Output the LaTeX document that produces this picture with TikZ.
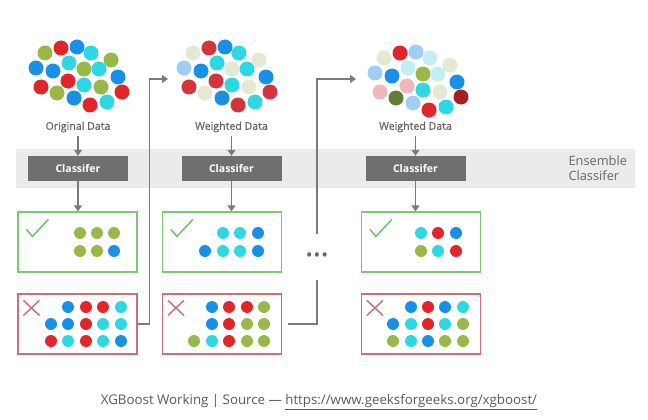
\documentclass[tikz,border=0pt]{standalone}
\usepackage{fontspec}
\setmainfont{Open Sans}
\newfontfamily\labfont[FakeBold=0.8]{Open Sans}
\usetikzlibrary{arrows.meta,positioning}
\definecolor{dred}{HTML}{E1262B}
\definecolor{rtwo}{HTML}{D5343C}
\definecolor{dblue}{HTML}{1A8FE6}
\definecolor{dcyan}{HTML}{2DD8E4}
\definecolor{dgreen}{HTML}{9AB84A}
\definecolor{beige}{HTML}{E3E9D3}
\definecolor{lblue}{HTML}{9ECDF5}
\definecolor{pcyan}{HTML}{C3EEF3}
\definecolor{pink}{HTML}{F1B8BB}
\definecolor{darkred}{HTML}{A51F1F}
\definecolor{dkgreen}{HTML}{5F7D33}
\definecolor{okgreen}{HTML}{7DC877}
\definecolor{badred}{HTML}{C97179}
\definecolor{tickgreen}{HTML}{6DC168}
\definecolor{crossred}{HTML}{C8727A}
\definecolor{clsgray}{HTML}{6F6F6F}
\definecolor{bandgray}{HTML}{EBEBEB}
\definecolor{linegray}{HTML}{7A7A7A}
\definecolor{labgray}{HTML}{666666}
\definecolor{capgray}{HTML}{5A5A5A}

\begin{document}
\begin{tikzpicture}[x=1pt, y=-1pt,
    blob/.style={circle, inner sep=0pt, minimum size=15pt},
    dot/.style={circle, inner sep=0pt, minimum size=12pt},
    cls/.style={fill=clsgray, text=white, minimum width=100pt, minimum height=25pt,
      font=\fontsize{10.5}{12}\selectfont\bfseries},
    lab/.style={text=labgray, font=\labfont\fontsize{10.6}{12}\selectfont},
    okbox/.style={draw=okgreen, line width=1.2pt, minimum width=119pt, minimum height=60pt},
    badbox/.style={draw=badred, line width=1.2pt, minimum width=119pt, minimum height=60pt},
    tick/.style={draw=tickgreen, line width=1.5pt},
    cross/.style={draw=crossred, line width=1.5pt},
    line/.style={draw=linegray, line width=1.2pt},
    arrow/.style={-{Triangle[width=8pt,length=6pt]}, line width=1.2pt, linegray}
  ]
  \useasboundingbox (0,0) rectangle (648,420);

  % ensemble band
  \fill[bandgray] (16,149) rectangle (635,188);

  % original data
  \foreach \x/\y/\c [count=\i] in {45/53/dgreen, 61/48/dred, 77/47/dblue, 91/53/dcyan, 111/60/dgreen,
      36/68/dblue, 53/71/dblue, 69/63/dcyan, 84/69/dgreen, 99/69/dcyan, 118/77/dblue,
      41/87/dred, 68/81/dred, 84/85/dcyan, 101/87/dgreen, 122/92/dred,
      57/93/dgreen, 74/98/dblue, 90/105/dred, 107/102/dcyan}
    \node[blob, fill=\c] (p\i) at (\x,\y) {};

  % weighted data, first round
  \begin{scope}[xshift=148pt]
    \foreach \x/\y/\c [count=\i] in {45/53/beige, 61/48/rtwo, 77/47/dblue, 91/53/dcyan, 111/60/beige,
        36/68/lblue, 53/71/dblue, 69/63/dcyan, 84/69/beige, 99/69/dcyan, 118/77/dblue,
        41/87/rtwo, 68/81/rtwo, 84/85/dcyan, 101/87/beige, 122/92/rtwo,
        57/93/beige, 74/98/dblue, 90/105/rtwo, 107/102/dcyan}
      \node[blob, fill=\c] (q\i) at (\x,\y) {};
  \end{scope}

  % weighted data, later round
  \begin{scope}[xshift=339pt, yshift=-5pt]
    \foreach \x/\y/\c [count=\i] in {45/53/beige, 61/48/dred, 77/47/lblue, 91/53/pcyan, 111/60/beige,
        36/68/lblue, 53/71/dblue, 69/63/pcyan, 84/69/dgreen, 99/69/pcyan, 118/77/dblue,
        41/87/pink, 68/81/pink, 84/85/dcyan, 101/87/beige, 122/92/darkred,
        57/93/dkgreen, 74/98/lblue, 90/105/dred, 107/102/dcyan}
      \node[blob, fill=\c] (r\i) at (\x,\y) {};
  \end{scope}

  % labels
  \node[lab] (lab1) at (78,127) {Original Data};
  \node[lab] (lab2) at (231.5,127) {Weighted Data};
  \node[lab] (lab3) at (415.5,127) {Weighted Data};

  % classifiers
  \node[cls] (cls1) at (78,168.5) {Classifer};
  \node[cls] (cls2) at (231.5,168.5) {Classifer};
  \node[cls] (cls3) at (415.5,168.5) {Classifer};
  \node[lab, font=\fontsize{12.8}{15}\selectfont, align=left, anchor=west] (ens) at (565,168.5) {Ensemble\\Classifer};

  % results
  \node[okbox] (ok1) at (77.5,242) {};
  \node[okbox] (ok2) at (222,242) {};
  \node[okbox] (ok3) at (421,242) {};
  \node[badbox] (bad1) at (77.5,324) {};
  \node[badbox] (bad2) at (222,324) {};
  \node[badbox] (bad3) at (421,324) {};

  \foreach \b in {ok1,ok2,ok3}
    \draw[tick] ([shift={(9,18)}]\b.north west) -- ++(6,7) -- ++(16,-17);
  \foreach \b in {bad1,bad2,bad3} {
    \draw[cross] ([shift={(6,7)}]\b.north west) -- ++(16,15);
    \draw[cross] ([shift={(6,22)}]\b.north west) -- ++(16,-15);
  }

  % correctly classified
  \foreach \x/\y/\c [count=\i] in {80/233/dgreen, 97/233/dgreen, 114/233/dgreen,
      80/251/dgreen, 97/251/dgreen, 114/251/dblue,
      223/233/dcyan, 240/233/dcyan, 258/233/dblue,
      205/251/dblue, 223/251/dcyan, 240/251/dcyan, 258/251/dblue,
      421/233/dcyan, 438/233/dred, 456/233/dblue,
      421/251/dgreen, 438/251/dcyan, 456/251/dred}
    \node[dot, fill=\c] (g\i) at (\x,\y) {};

  % misclassified
  \foreach \x/\y/\c [count=\i] in {68/307/dblue, 86/307/dred, 103/307/dred, 121/307/dcyan,
      51/324/dblue, 68/324/dblue, 86/324/dred, 103/324/dcyan, 121/324/dcyan,
      51/341/dred, 68/341/dcyan, 86/341/dred, 103/341/dcyan, 121/341/dblue,
      212/307/dblue, 229/307/dred, 247/307/dred, 264/307/dgreen,
      212/324/dblue, 229/324/dred, 247/324/dgreen, 264/324/dgreen,
      194/341/dgreen, 212/341/dcyan, 229/341/dred, 247/341/dgreen, 264/341/dgreen,
      411/307/dblue, 428/307/dred, 445/307/dblue, 463/307/dcyan,
      393/324/dblue, 411/324/dcyan, 428/324/dred, 445/324/dcyan, 463/324/dgreen,
      393/341/dgreen, 411/341/dcyan, 428/341/dblue, 445/341/dgreen, 463/341/dgreen}
    \node[dot, fill=\c] (m\i) at (\x,\y) {};

  % arrows
  \draw[arrow] (lab1) -- (cls1);
  \draw[arrow] (lab2) -- (cls2);
  \draw[arrow] (lab3) -- (cls3);
  \draw[arrow] (cls1) -- (cls1 |- ok1.north);
  \draw[arrow] (cls2) -- (cls2 |- ok2.north);
  \draw[arrow] (cls3) -- (cls3 |- ok3.north);

  % feedback of misclassified samples
  \coordinate (in2) at (168,79);
  \coordinate (in3) at (356,79);
  \draw[arrow] (bad1.east) -- ++(12,0) |- (in2);
  \node[text=labgray, minimum height=46pt, inner sep=0pt, font=\fontsize{18}{18}\selectfont] (more) at (317,257)
    {\textbullet\hspace{1pt}\textbullet\hspace{1pt}\textbullet};
  \draw[line] ([xshift=6pt]bad2.east) -| (more.south);
  \draw[arrow] (more.north) |- (in3);

  % caption
  \node[text=capgray, font=\fontsize{13.3}{15}\selectfont] (cap) at (319,402)
    {XGBoost Working | Source — \underline{https://www.geeksforgeeks.org/xgboost/}};
\end{tikzpicture}
\end{document}
